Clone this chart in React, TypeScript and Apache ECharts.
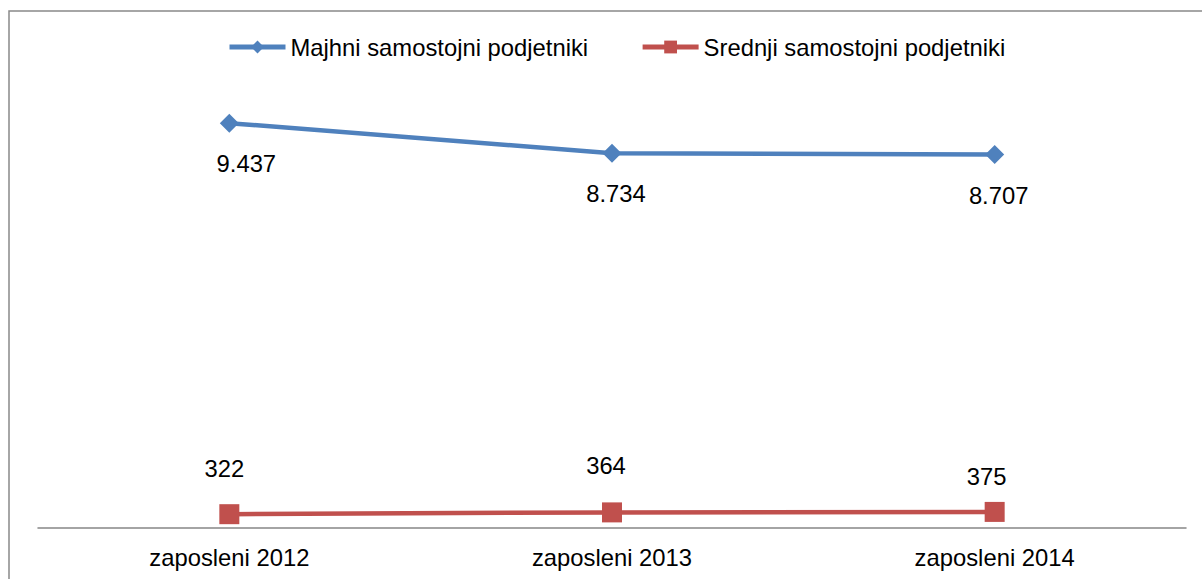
import React, { useEffect, useRef } from "react";
import * as echarts from "echarts";

const categories = ["zaposleni 2012", "zaposleni 2013", "zaposleni 2014"];
const seriesNames = ["Majhni samostojni podjetniki", "Srednji samostojni podjetniki"];
const smallValues = [9437, 8734, 8707];
const mediumValues = [322, 364, 375];
const smallLabelOffsets = [[17, 40], [4, 40], [4, 41]];
const mediumLabelOffsets = [[-5, -46], [-6, -47], [-8, -35]];

const fmt = (v: number) => {
  const s = String(v);
  return s.length > 3 ? s.slice(0, s.length - 3) + "." + s.slice(-3) : s;
};

export default function App() {
  const ref = useRef<HTMLDivElement>(null);
  useEffect(() => {
    if (!ref.current) return;
    const chart = echarts.init(ref.current, undefined, { renderer: "svg" });
    const font = "'Liberation Sans', Arial, sans-serif";
    const fs = 23.8;
    const makeData = (vals: number[], offs: number[][]) =>
      vals.map((v, i) => ({
        value: v,
        label: { show: true, position: "inside", offset: offs[i] },
      }));
    chart.setOption({
      animation: false,
      backgroundColor: "#ffffff",
      textStyle: { fontFamily: font },
      graphic: [
        {
          type: "rect",
          shape: { x: 9, y: 11, width: 1210, height: 590 },
          style: { fill: "none", stroke: "#898989", lineWidth: 1.5 },
          silent: true,
        },
      ],
      legend: {
        top: 30,
        left: 222,
        itemWidth: 56,
        itemHeight: 16,
        itemGap: 52,
        lineStyle: { width: 5 },
        textStyle: { fontSize: fs, color: "#000", fontFamily: font },
        data: seriesNames,
      },
      grid: { left: 38, right: 16, top: 99, bottom: 51, containLabel: false },
      xAxis: {
        type: "category",
        data: categories,
        boundaryGap: true,
        axisLine: { show: true, lineStyle: { color: "#868686", width: 1.5 } },
        axisTick: { show: false },
        axisLabel: { fontSize: fs, color: "#000", margin: 17, fontFamily: font },
      },
      yAxis: {
        type: "value",
        min: 0,
        max: 10000,
        show: false,
        splitLine: { show: false },
      },
      series: [
        {
          name: seriesNames[0],
          type: "line",
          data: makeData(smallValues, smallLabelOffsets),
          symbol: "diamond",
          symbolSize: 19,
          itemStyle: { color: "#4f81bd" },
          lineStyle: { color: "#4f81bd", width: 4.5 },
          label: {
            formatter: (p: any) => fmt(p.value),
            fontSize: fs,
            color: "#000",
            fontFamily: font,
          },
        },
        {
          name: seriesNames[1],
          type: "line",
          data: makeData(mediumValues, mediumLabelOffsets),
          symbol: "rect",
          symbolSize: 20,
          itemStyle: { color: "#c0504d" },
          lineStyle: { color: "#c0504d", width: 4.5 },
          label: {
            formatter: (p: any) => fmt(p.value),
            fontSize: fs,
            color: "#000",
            fontFamily: font,
          },
        },
      ],
    });
    return () => chart.dispose();
  }, []);
  return (
    <div
      ref={ref}
      style={{ position: "fixed", left: 0, top: 0, width: 1202, height: 579 }}
    />
  );
}
